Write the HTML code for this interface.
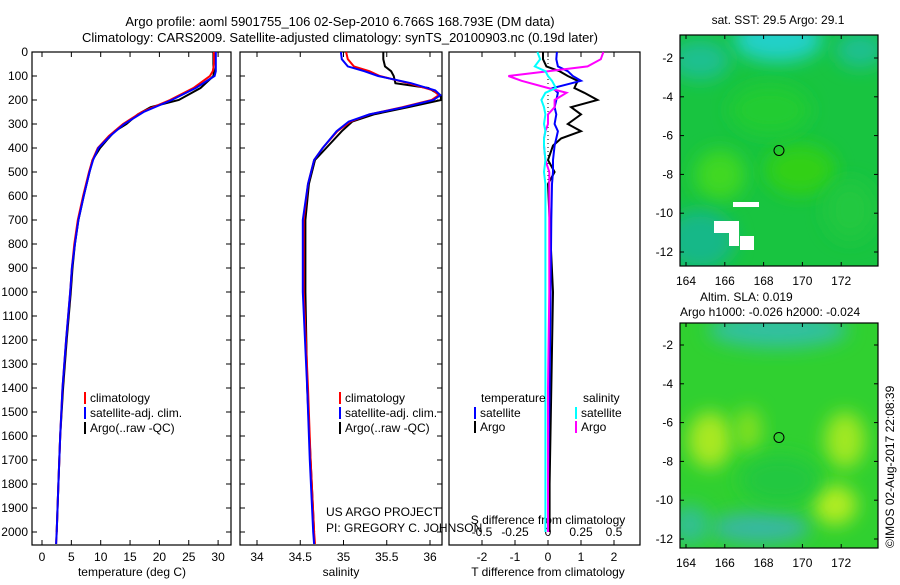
<!DOCTYPE html>
<html><head><meta charset="utf-8">
<style>
body{margin:0;background:#fff}
svg text{font-family:"Liberation Sans",sans-serif;font-size:12px;fill:#000}
</style></head>
<body>
<svg id="c" width="900" height="580" viewBox="0 0 900 580" xmlns="http://www.w3.org/2000/svg">
<defs>
<filter id="bl" x="-50%" y="-50%" width="200%" height="200%"><feGaussianBlur stdDeviation="9"/></filter>
<clipPath id="m1"><rect x="680" y="35" width="198" height="231"/></clipPath>
<clipPath id="m2"><rect x="680" y="323" width="198" height="225"/></clipPath>
</defs>
<text x="340" y="26" text-anchor="middle" style="font-size:13px">Argo profile: aoml 5901755_106 02-Sep-2010 6.766S 168.793E (DM data)</text>
<text x="340" y="42" text-anchor="middle" style="font-size:13px">Climatology: CARS2009. Satellite-adjusted climatology: synTS_20100903.nc (0.19d later)</text>
<g id="g"></g>
<text transform="translate(894,548) rotate(-90)" style="font-size:12px">©IMOS 02-Aug-2017 22:08:39</text>
</svg>
<script>
// ---- data ----
const depthT = [0,50,80,100,150,200,250,300,350,400,450,500,600,700,800,900,1000,1200,1400,1600,1800,2000,2050];
const tempClim = [29.3,29.3,29.1,28.6,25.8,21.8,17,13.8,11.4,9.5,8.6,8.0,7.0,6.1,5.5,5.1,4.8,4.1,3.5,3.1,2.8,2.5,2.4];
const tempSat  = [29.6,29.6,29.6,29.4,26.2,22.1,17.3,14.0,11.6,9.6,8.7,8.1,7.1,6.2,5.6,5.1,4.8,4.1,3.5,3.1,2.8,2.5,2.4];
const depthArgo = [0,20,60,80,100,150,200,230,260,300,330,360,400,450,500,600,700,800,900,1000,1200,1400,1600,1800,2000];
const tempArgo = [29.2,29.2,29.2,29.3,29.2,27,23.3,18.5,16.3,14.4,12.4,11.3,9.9,8.6,8.1,7.1,6.2,5.6,5.2,4.9,4.2,3.6,3.1,2.8,2.5];
const depthS = [0,30,60,80,100,130,160,180,200,230,260,290,330,400,450,550,700,1000,1400,1700,2000,2050];
const salClim = [35.03,35.05,35.12,35.3,35.42,35.75,36.04,36.1,36.02,35.68,35.3,35.08,34.93,34.76,34.66,34.59,34.54,34.54,34.59,34.62,34.66,34.67];
const salSat  = [34.97,34.98,35.05,35.24,35.40,35.78,36.06,36.12,36.04,35.70,35.3,35.06,34.92,34.76,34.66,34.59,34.53,34.53,34.58,34.61,34.65,34.66];
const depthSArgo = [0,30,60,80,100,130,150,180,200,230,260,290,330,400,450,550,700,1000,1400,1700,2000];
const salArgo = [35.46,35.46,35.48,35.55,35.58,35.6,35.98,36.12,36.13,35.75,35.35,35.1,34.98,34.8,34.67,34.6,34.56,34.56,34.58,34.62,34.66];
const depthD = [0,30,60,80,100,120,150,170,200,230,260,300,330,360,390,450,500,550,700,1000,1400,1800,2000];
const dTsat  = [0.27,0.25,0.3,0.6,0.75,1.0,0.15,0.3,0.25,0.2,0.25,0.2,0.3,0.25,0.2,0.15,0.15,0.12,0.1,0.08,0.05,0.0,0.0];
const dTargo = [-0.15,-0.15,-0.05,0.35,0.6,0.9,0.8,1.1,1.5,0.7,1.0,0.6,1.0,0.4,0.15,0.0,0.2,0.0,0.05,0.15,0.1,0.05,0.05];
const dSsat  = [-0.08,-0.06,-0.1,-0.02,0.0,0.03,0.06,-0.02,-0.05,-0.03,-0.02,-0.03,-0.02,-0.03,-0.03,-0.02,-0.03,-0.02,-0.02,-0.02,-0.02,-0.02,-0.02];
const dSargo = [0.42,0.4,0.3,0.0,-0.3,-0.2,0.0,0.14,0.05,0.05,0.0,0.0,-0.02,-0.03,-0.03,-0.02,0.01,0.01,0.01,0.01,0.0,0.0,0.0];
const tTicks = [0,5,10,15,20,25,30];
const sTicks = [34,34.5,35,35.5,36];
const dtTicks = [-2,-1,0,1,2];
const dsTicks = [-0.5,-0.25,0,0.25,0.5];
const dsTickLabels = ['-0.5','-0.25','0','0.25','0.5'];
const zTicks = [0,100,200,300,400,500,600,700,800,900,1000,1100,1200,1300,1400,1500,1600,1700,1800,1900,2000];
const lonTicks = [164,166,168,170,172];
const latTicks = [-2,-4,-6,-8,-10,-12];

// ---- helpers ----
const NS='http://www.w3.org/2000/svg';
const G=document.getElementById('g');
function mk(tag,attrs,parent){const e=document.createElementNS(NS,tag);for(const k in attrs)e.setAttribute(k,attrs[k]);(parent||G).appendChild(e);return e;}
const yZ = d => 52 + d*0.24;
const PT=32, PB=545;
const xT = v => 42 + v*5.87;
const xS = v => 257 + (v-34)*86.5;
const xDT = v => 548 + v*33;
const xDS = v => 548 + v*132;

function frame(x0,x1,name){
  const r=mk('rect',{x:x0,y:PT+20,width:x1-x0,height:PB-PT-20,fill:'#fff',stroke:'#000','stroke-width':1.2});
  
  
}
function line(ds,vs,fx,color,name,w){
  const pts=ds.map((d,i)=>fx(vs[i]).toFixed(1)+','+yZ(d).toFixed(1)).join(' ');
  const p=mk('polyline',{points:pts,fill:'none',stroke:color,'stroke-width':w||2});
  
  
}
function txt(x,y,s,anchor,name,size){
  const t=mk('text',{x:x,y:y,'text-anchor':anchor||'start'});
  if(size)t.setAttribute('style','font-size:'+size+'px');
  t.textContent=s;
  
  
  return t;
}
function xticks(vals,fx,labels,name,top){
  vals.forEach((v,i)=>{
    const x=fx(v);
    mk('line',{x1:x,x2:x,y1:PB,y2:PB-5,stroke:'#000'});
    if(top!==false) mk('line',{x1:x,x2:x,y1:52,y2:57,stroke:'#000'});
    txt(x,561,labels?labels[i]:String(v),'middle',name);
  });
}

// panels
frame(32,231,'temperature-panel');
frame(240,442,'salinity-panel');
frame(449,640,'difference-panel');

// y ticks
zTicks.forEach(z=>{
  const y=yZ(z);
  txt(28,y+4,String(z),'end','depth-tick-label');
  mk('line',{x1:32,x2:37,y1:y,y2:y,stroke:'#000'});
  mk('line',{x1:226,x2:231,y1:y,y2:y,stroke:'#000'});
  mk('line',{x1:240,x2:245,y1:y,y2:y,stroke:'#000'});
  mk('line',{x1:437,x2:442,y1:y,y2:y,stroke:'#000'});
});
xticks(tTicks,xT,null,'temperature-tick-label');
xticks(sTicks,xS,null,'salinity-tick-label');
xticks(dtTicks,xDT,null,'t-diff-tick-label');
dsTicks.forEach((v,i)=>txt(xDS(v),536,dsTickLabels[i],'middle','s-diff-tick-label'));
txt(132,576,'temperature (deg C)','middle','x-axis-title-temperature');
txt(341,576,'salinity','middle','x-axis-title-salinity');
txt(548,576,'T difference from climatology','middle','x-axis-title-t-diff');
txt(548,524,'S difference from climatology','middle','x-axis-title-s-diff');

// series
line(depthArgo,tempArgo,xT,'#000','temp-argo-line');
line(depthT,tempClim,xT,'#f00','temp-climatology-line');
line(depthT,tempSat,xT,'#00f','temp-satellite-line');
line(depthSArgo,salArgo,xS,'#000','sal-argo-line');
line(depthS,salClim,xS,'#f00','sal-climatology-line');
line(depthS,salSat,xS,'#00f','sal-satellite-line');
// zero dotted line
const zl=mk('line',{x1:548,x2:548,y1:55,y2:180,stroke:'#000','stroke-dasharray':'1,3'});


line(depthD,dTargo,xDT,'#000','t-diff-argo-line');
line(depthD,dTsat,xDT,'#00f','t-diff-satellite-line');
line(depthD,dSargo,xDS,'#f0f','s-diff-argo-line');
line(depthD,dSsat,xDS,'#0ff','s-diff-satellite-line');

// legends
function leg(x,y,color,label){
  const b=mk('rect',{x:x,y:y-10,width:2,height:12,fill:color});
  
  
  txt(x+6,y,label,'start','legend-entry');
}
[[84,'#f00','climatology'],[84,'#00f','satellite-adj. clim.'],[84,'#000','Argo(..raw -QC)']].forEach((l,i)=>leg(l[0],402+i*15,l[1],l[2]));
[[339,'#f00','climatology'],[339,'#00f','satellite-adj. clim.'],[339,'#000','Argo(..raw -QC)']].forEach((l,i)=>leg(l[0],402+i*15,l[1],l[2]));
txt(481,402,'temperature','start','legend-title-temperature');
txt(583,402,'salinity','start','legend-title-salinity');
leg(474,417,'#00f','satellite');leg(474,431,'#000','Argo');
leg(575,417,'#0ff','satellite');leg(575,431,'#f0f','Argo');
txt(326,516,'US ARGO PROJECT','start','project-label');
txt(326,532,'PI: GREGORY C. JOHNSON','start','pi-label');

// maps
const lonX = v => 686 + (v-164)*19.4;
function map(y0,h,clip,name,blobs,base,lat0y){
  const grp=mk('g',{'clip-path':'url(#'+clip+')'});
  
  
  mk('rect',{x:680,y:y0,width:198,height:h,fill:base},grp);
  blobs.forEach(b=>mk('ellipse',{cx:b[0],cy:b[1],rx:b[2],ry:b[3],fill:b[4],filter:'url(#bl)'},grp));
  mk('rect',{x:680,y:y0,width:198,height:h,fill:'none',stroke:'#000','stroke-width':1.2});
  const latY=v=>lat0y+(-2-v)*19.4;
  lonTicks.forEach(v=>{const x=lonX(v);mk('line',{x1:x,x2:x,y1:y0+h,y2:y0+h-4,stroke:'#000'});mk('line',{x1:x,x2:x,y1:y0,y2:y0+4,stroke:'#000'});txt(x,y0+h+19,String(v),'middle','map-lon-tick-label');});
  latTicks.forEach(v=>{const y=latY(v);mk('line',{x1:680,x2:684,y1:y,y2:y,stroke:'#000'});mk('line',{x1:874,x2:878,y1:y,y2:y,stroke:'#000'});txt(673,y+4,String(v),'end','map-lat-tick-label');});
  const c=mk('circle',{cx:lonX(168.793),cy:latY(-6.766),r:5,fill:'none',stroke:'#000'});
  
  
}
map(35,231,'m1','sst-map',[
  [778,40,45,22,'#22d0c8'],[700,60,30,20,'#1ac090'],[860,50,25,18,'#1ac090'],
  [720,175,25,25,'#40d820'],[800,170,35,25,'#30d018'],[700,240,35,30,'#18b888'],
  [850,210,25,30,'#20c840'],[770,110,40,25,'#20cc30']
],'#18c440',58);
[[733,202,26,5],[714,221,16,12],[729,221,10,25],[740,236,14,14]].forEach(r=>{const e=mk('rect',{x:r[0],y:r[1],width:r[2],height:r[3],fill:'#fff'});});
map(323,225,'m2','sla-map',[
  [778,330,70,18,'#30c0a0'],[710,440,22,28,'#a8e820'],[748,430,14,22,'#80e020'],
  [845,440,20,28,'#a0e820'],[835,505,22,20,'#b0ec20'],[760,528,50,16,'#38b8a0'],
  [690,525,20,20,'#30c090'],[780,480,40,25,'#20c840']
],'#30d030',345);
txt(778,24,'sat. SST: 29.5 Argo: 29.1','middle','sst-map-title');
txt(700,301,'Altim. SLA: 0.019','start','sla-map-title');
txt(680,316,'Argo h1000: -0.026 h2000: -0.024','start','argo-height-label');
</script>
</body></html>
